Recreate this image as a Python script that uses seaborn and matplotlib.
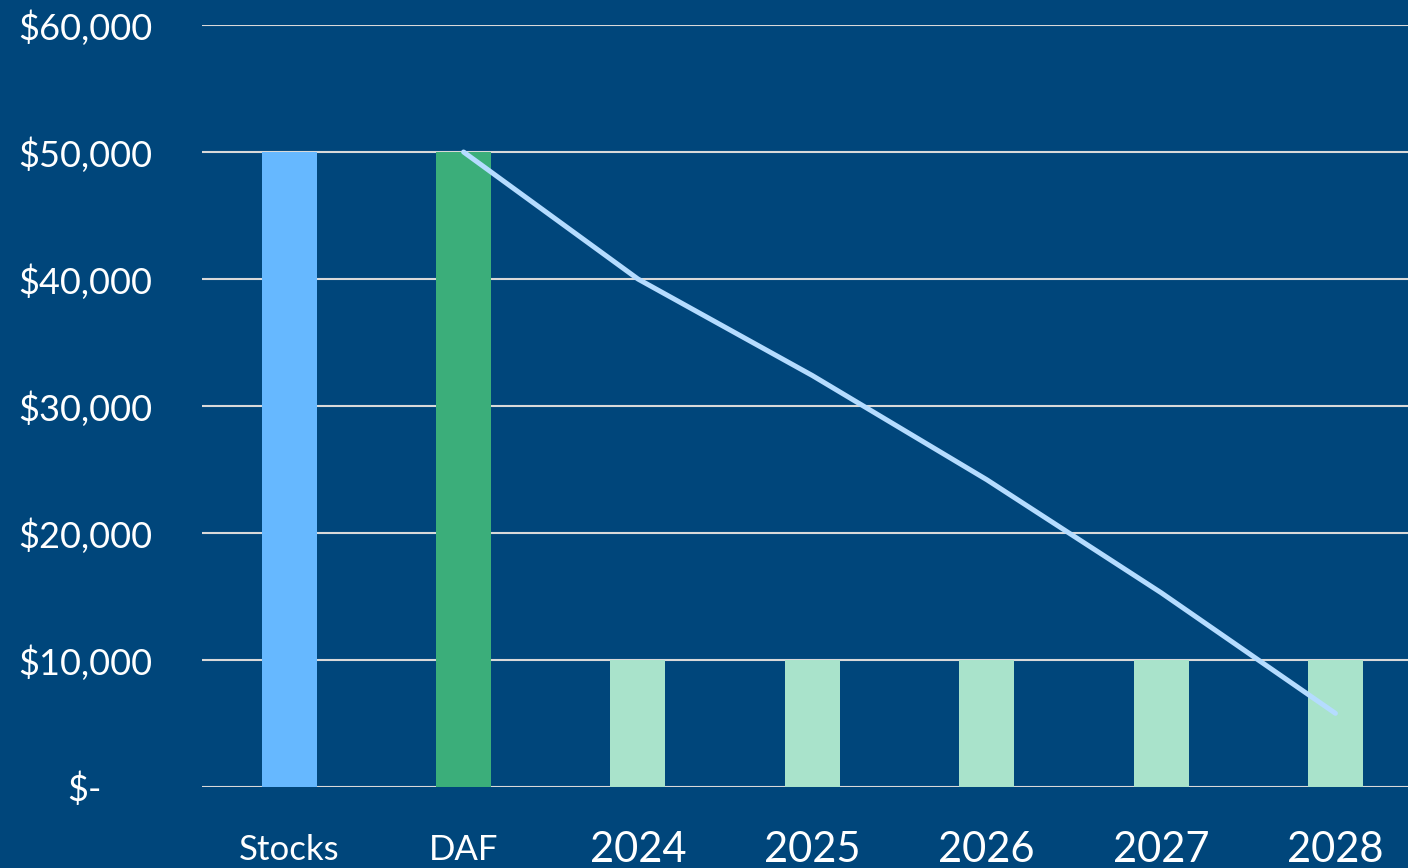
import matplotlib
matplotlib.use("Agg")
import matplotlib.pyplot as plt
from matplotlib.transforms import ScaledTranslation
import seaborn as sns
import pandas as pd

# Gift of appreciated stock into a donor-advised fund, then yearly grants
categories = ["Stocks", "DAF", "2024", "2025", "2026", "2027", "2028"]
bar_values = [50000, 50000, 10000, 10000, 10000, 10000, 10000]
bar_colors = ["#66B8FF", "#3BAE7A", "#A9E3CB", "#A9E3CB", "#A9E3CB", "#A9E3CB", "#A9E3CB"]

# Remaining DAF balance after each year's grant
balance_labels = ["DAF", "2024", "2025", "2026", "2027", "2028"]
balance_values = [50000, 40000, 32400, 24200, 15300, 5800]

y_ticks = [0, 10000, 20000, 30000, 40000, 50000, 60000]
y_tick_labels = ["$-", "$10,000", "$20,000", "$30,000", "$40,000", "$50,000", "$60,000"]

BG = "#00467B"

sns.set_theme(style="white")
plt.rcParams["font.family"] = ["Lato", "DejaVu Sans"]

fig = plt.figure(figsize=(14.08, 8.68), dpi=100, facecolor=BG)
ax = fig.add_axes([202 / 1408, (868 - 787) / 868, 1 - 202 / 1408 + 0.01, (787 - 25) / 868])
ax.set_facecolor(BG)

bars = pd.DataFrame({"category": categories, "value": bar_values})
sns.barplot(data=bars, x="category", y="value", hue="category",
            palette=dict(zip(categories, bar_colors)), order=categories,
            width=0.315, linewidth=0, saturation=1, legend=False, ax=ax, zorder=3)

line = pd.DataFrame({"pos": [categories.index(c) for c in balance_labels],
                     "balance": balance_values})
sns.lineplot(data=line, x="pos", y="balance", color="#B5DCFF", linewidth=3.6,
             solid_capstyle="round", ax=ax, zorder=4)

ax.set_xlim(-0.5, 6.0 + (1408 - 1332) / 174 + 0.06)
ax.set_ylim(0, 60000)
ax.set_yticks(y_ticks)
ax.set_yticklabels(y_tick_labels, fontsize=26, color="white")
ax.yaxis.grid(True, color="#D9D9D9", linewidth=1.5, zorder=1)
ax.set_axisbelow(True)
for s in ax.spines.values():
    s.set_visible(False)
ax.tick_params(axis="y", length=0, pad=36)
ax.tick_params(axis="x", length=0, pad=32)
ax.set_xlabel("")
ax.set_ylabel("")

ax.set_xticks(range(len(categories)))
ax.set_xticklabels(categories, color="white")
for lbl, cat in zip(ax.get_xticklabels(), categories):
    if cat.isdigit():
        lbl.set_fontsize(30)
    else:
        lbl.set_fontsize(25)
        lbl.set_transform(lbl.get_transform() + ScaledTranslation(0, -3 / 100, fig.dpi_scale_trans))

# the zero label sits further left, accounting style
zero_lbl = ax.get_yticklabels()[0]
zero_lbl.set_transform(zero_lbl.get_transform() + ScaledTranslation(-0.5, 0, fig.dpi_scale_trans))

fig.savefig("out.png", dpi=100, facecolor=BG)
